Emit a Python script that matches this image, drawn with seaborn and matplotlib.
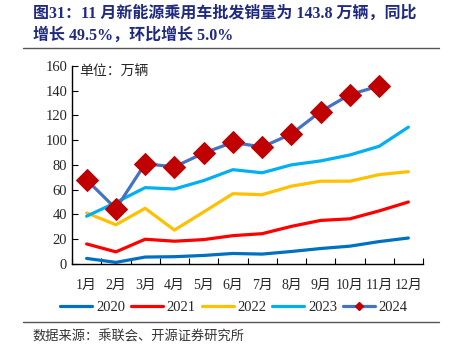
import matplotlib
matplotlib.use("Agg")
import matplotlib.pyplot as plt
import seaborn as sns
from matplotlib.lines import Line2D

sns.set_style("ticks")
plt.rcParams['font.family'] = ['Liberation Serif', 'Noto Sans CJK SC', 'DejaVu Sans']

# data (万辆)
months = ["1月", "2月", "3月", "4月", "5月", "6月", "7月", "8月", "9月", "10月", "11月", "12月"]
y2020 = [4.5, 1.3, 5.6, 5.9, 6.9, 8.5, 8.0, 10.1, 12.5, 14.4, 18.1, 21.0]
y2021 = [16.2, 9.8, 20.0, 18.4, 19.7, 22.9, 24.5, 30.4, 35.2, 36.5, 42.9, 50.1]
y2022 = [41.3, 31.7, 45.0, 27.4, 42.0, 56.8, 56.0, 62.9, 66.9, 66.9, 72.2, 74.6]
y2023 = [38.6, 49.7, 61.7, 60.6, 67.4, 76.2, 73.7, 80.1, 83.3, 88.1, 95.1, 110.6]
y2024 = [68.0, 44.7, 81.0, 78.5, 89.6, 98.3, 94.5, 105.1, 123.2, 136.9, 143.8]

series = [("2020", y2020, "#0070C0"), ("2021", y2021, "#FF0000"),
          ("2022", y2022, "#FFC000"), ("2023", y2023, "#00B0F0")]

fig = plt.figure(figsize=(4.5, 3.6), dpi=100)
ax = fig.add_axes([0.16, 0.2667, 0.78, 0.55])

x = list(range(12))
for name, vals, col in series:
    sns.lineplot(x=x[:len(vals)], y=vals, color=col, linewidth=2.3, ax=ax)
sns.lineplot(x=x[:len(y2024)], y=y2024, color="#4472C4", linewidth=2.3, marker="D",
             markersize=11, markerfacecolor="#C00000", markeredgecolor="#C00000", ax=ax)

ax.set_xlim(-0.5, 11.5)
ax.set_ylim(0, 160)
ax.set_yticks(range(0, 161, 20))
ax.set_xticks([i + 0.5 for i in range(-1, 12)], minor=False)
ax.set_xticklabels([])
ax.set_xticks(x, minor=True)
ax.set_xticklabels(months, minor=True)
ax.tick_params(axis="x", which="major", direction="in", length=4, color="black")
ax.tick_params(axis="x", which="minor", length=0, labelsize=10, pad=11)
ax.tick_params(axis="y", direction="in", length=4, labelsize=10.5, color="black")
for s in ["top", "right"]:
    ax.spines[s].set_visible(False)
for s in ["left", "bottom"]:
    ax.spines[s].set_color("black")
    ax.spines[s].set_linewidth(1)
ax.set_xlabel("")
ax.set_ylabel("")

ax.text(0.02, 1.0, "单位：万辆", transform=ax.transAxes, fontsize=10, va="top", ha="left")

handles = [Line2D([0], [0], color=c, lw=2.3) for _, _, c in series]
handles.append(Line2D([0], [0], color="#4472C4", lw=2.3, marker="D", markersize=4.5,
                      markerfacecolor="#C00000", markeredgecolor="#C00000"))
labels = [n for n, _, _ in series] + ["2024"]
fig.legend(handles, labels, loc="center", bbox_to_anchor=(0.52, 0.147), ncol=5, frameon=False,
           fontsize=10.5, handlelength=2.2, handletextpad=0.25, columnspacing=0.4)

tcol = "#1F2A80"
fig.text(0.073, 0.962, "图31：11 月新能源乘用车批发销量为 143.8 万辆，同比", fontsize=11.5,
         fontweight="bold", color=tcol, va="center", ha="left")
fig.text(0.073, 0.902, "增长 49.5%，环比增长 5.0%", fontsize=11.5,
         fontweight="bold", color=tcol, va="center", ha="left")
fig.add_artist(Line2D([0.05, 0.975], [0.867, 0.867], color="#555555", lw=1))
fig.add_artist(Line2D([0.05, 0.975], [0.105, 0.105], color="#555555", lw=1))
fig.text(0.073, 0.064, "数据来源：乘联会、开源证券研究所", fontsize=9.5, color="#333333",
         va="center", ha="left")

fig.savefig("out.png", dpi=100)
